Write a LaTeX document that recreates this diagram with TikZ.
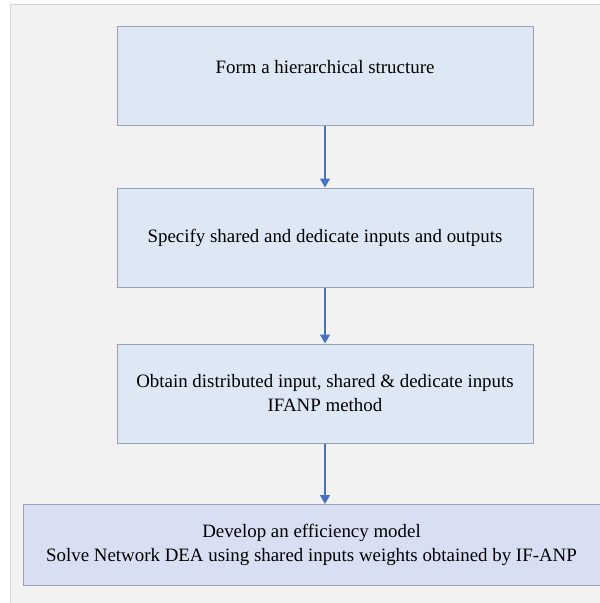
\documentclass[tikz,border=0pt]{standalone}
\usepackage{fontspec}
\setmainfont{Liberation Serif}
\usetikzlibrary{arrows.meta}
\definecolor{panelfill}{HTML}{F2F2F2}
\definecolor{paneldraw}{HTML}{D6D6D6}
\definecolor{boxfill}{HTML}{DDE8F4}
\definecolor{boxfillb}{HTML}{D9DFF2}
\definecolor{boxdraw}{HTML}{94A3BA}
\definecolor{arrowc}{HTML}{4472C4}
\tikzset{
  stepbox/.style={draw=boxdraw, fill=boxfill, line width=1pt, inner sep=0pt, align=center,
    font=\fontsize{18.9}{24}\selectfont},
  flow/.style={draw=arrowc, line width=1.4pt, -{Triangle[length=9pt,width=10pt]}}
}
\begin{document}
\begin{tikzpicture}[x=1pt,y=-1pt]
\useasboundingbox (0,0) rectangle (600,603);
\fill[white] (0,0) rectangle (600,603);
\draw[fill=panelfill, draw=paneldraw, line width=1pt] (10,4) rectangle (603,606);
\node[stepbox, minimum width=416pt, minimum height=99pt] (a) at (325,75.5) {};
\node[font=\fontsize{18.9}{24}\selectfont] (ta) at (325,67) {Form a hierarchical structure};
\node[stepbox, minimum width=416pt, minimum height=99pt] (b) at (325,237.5) {Specify shared and dedicate inputs and outputs};
\node[stepbox, minimum width=416pt, minimum height=99pt] (c) at (325,393.5) {Obtain distributed input, shared \& dedicate inputs\\IFANP method};
\node[stepbox, fill=boxfillb, minimum width=577pt, minimum height=81pt] (d) at (311.5,545) {Develop an efficiency model\\Solve Network DEA using shared inputs weights obtained by IF-ANP};
\draw[flow] (a.south) -- (b.north);
\draw[flow] (b.south) -- (c.north);
\draw[flow] (c.south) -- (c.south |- d.north);
\end{tikzpicture}
\end{document}
